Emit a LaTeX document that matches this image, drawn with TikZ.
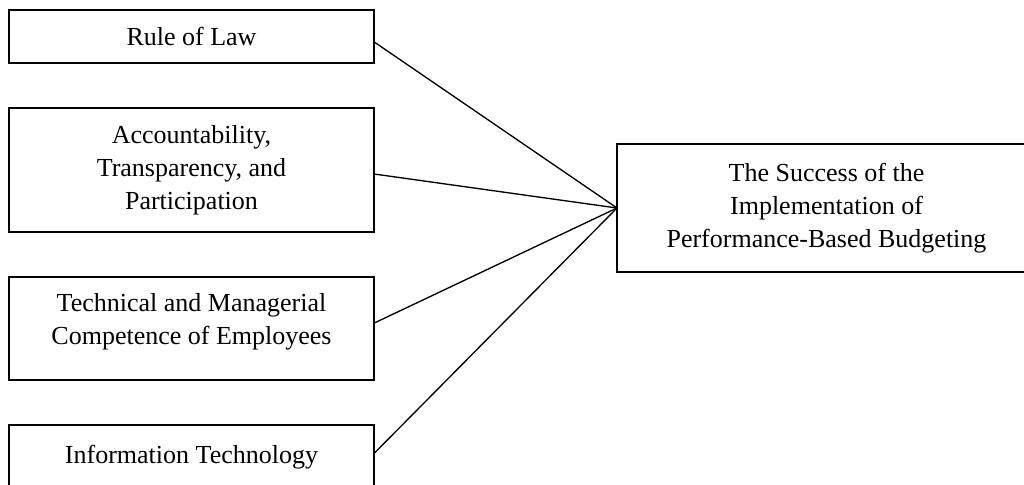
\documentclass[tikz,border=0pt]{standalone}
\usepackage{fontspec}
\setmainfont{Liberation Serif}
\usepackage{tikz}
\usetikzlibrary{positioning}
\tikzset{
    factorbox/.style = {rectangle, draw=black, line width=1pt, align=center, inner sep=0pt, outer sep=0pt, minimum width=273.75pt, font=\fontsize{19.5}{24.75}\selectfont, text=black},
    goalbox/.style = {rectangle, draw=black, line width=1pt, align=center, inner sep=0pt, outer sep=0pt, minimum width=314.25pt, minimum height=96pt, font=\fontsize{19.5}{24.75}\selectfont, text=black},
    edgen/.style = {-, line width=1pt, black}
}

\begin{document}
\begin{tikzpicture}[x=0.75pt,y=-0.75pt]
\useasboundingbox (0,0) rectangle (1024,485);
\clip (0,0) rectangle (1024,485);
\node[factorbox, minimum height=39.75pt] at (191.5, 36.5) (law) {Rule of Law};
\node[factorbox, minimum height=93pt] at (191.5, 170.0) (acct) {Accountability,\\Transparency, and\\Participation};
\node[factorbox, minimum height=77.25pt, text depth=15pt] at (191.5, 328.5) (comp) {Technical and Managerial\\Competence of Employees};
\node[factorbox, minimum height=48.75pt] at (191.5, 457.5) (tech) {Information Technology};
\node[goalbox] at (826.5, 208.0) (succ) {The Success of the\\Implementation of\\Performance-Based Budgeting};
\draw[edgen] ([yshift=-4pt]law.east) -- (succ.west);
\draw[edgen] ([yshift=-3pt]acct.east) -- (succ.west);
\draw[edgen] ([yshift=4pt]comp.east) -- (succ.west);
\draw[edgen] ([yshift=3pt]tech.east) -- (succ.west);
\end{tikzpicture}
\end{document}
